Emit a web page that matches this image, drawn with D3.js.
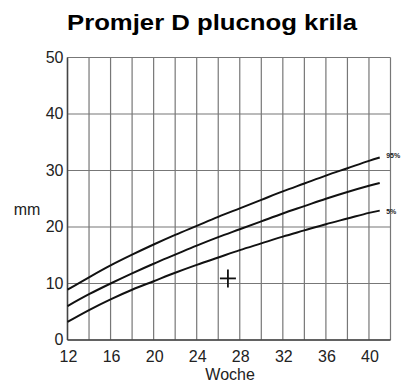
<!DOCTYPE html>
<html><head><meta charset="utf-8">
<script src="https://cdn.jsdelivr.net/npm/d3@7"></script>
<style>body{margin:0;background:#fff}svg{display:block}</style>
</head><body><svg id="c" width="407" height="387"></svg>
<script>
const weeks = [12,14,16,18,20,22,24,26,28,30,32,34,36,38,40,41];
const p95 = [8.9,11.1,13.2,15.1,16.9,18.6,20.2,21.8,23.3,24.8,26.3,27.7,29.1,30.4,31.7,32.3];
const p50 = [6.0,8.1,10.0,11.8,13.5,15.1,16.7,18.2,19.6,21.0,22.4,23.7,25.0,26.2,27.3,27.8];
const p5  = [3.2,5.3,7.2,8.9,10.4,11.9,13.3,14.6,15.9,17.1,18.3,19.4,20.5,21.5,22.5,22.9];
const xTicks = [12,16,20,24,28,32,36,40];
const yTicks = [0,10,20,30,40,50];
const xGrid = d3.range(12,43,2);
const crossWeek = [26.9], crossVal = [10.9];
const labels = [{t:"95%", v:32.8}, {t:"5%", v:22.8}];

const svg = d3.select("#c");
const x = d3.scaleLinear().domain([12,42]).range([67.5,390.5]);
const y = d3.scaleLinear().domain([0,50]).range([340,57.5]);
const font = "Liberation Sans, Arial, sans-serif";

svg.append("text").attr("x",212).attr("y",30).attr("text-anchor","middle")
  .attr("font-family",font).attr("font-weight","bold").attr("font-size",22)
  .attr("textLength",290).attr("lengthAdjust","spacingAndGlyphs").text("Promjer D plucnog krila");

const g = svg.append("g");
g.selectAll(".vg").data(xGrid).join("line")
  .attr("x1",d=>x(d)).attr("x2",d=>x(d)).attr("y1",y(0)).attr("y2",y(50))
  .attr("stroke","#777").attr("stroke-width",1.2);
g.selectAll(".hg").data(yTicks).join("line")
  .attr("x1",x(12)).attr("x2",x(42)).attr("y1",d=>y(d)).attr("y2",d=>y(d))
  .attr("stroke","#777").attr("stroke-width",1.2);
g.append("line").attr("x1",x(12)).attr("x2",x(42)).attr("y1",y(0)).attr("y2",y(0)).attr("stroke","#444").attr("stroke-width",1.5);
g.append("line").attr("x1",x(12)).attr("x2",x(12)).attr("y1",y(0)).attr("y2",y(50)).attr("stroke","#444").attr("stroke-width",1.5);

svg.selectAll(".yl").data(yTicks).join("text")
  .attr("x",x(12)-4).attr("y",d=>y(d)+5).attr("text-anchor","end")
  .attr("font-family",font).attr("font-size",16).attr("fill","#222").text(d=>d);
svg.selectAll(".xl").data(xTicks).join("text")
  .attr("x",d=>x(d)+1).attr("y",y(0)+22).attr("text-anchor","middle")
  .attr("font-family",font).attr("font-size",16).attr("fill","#222").text(d=>d);
svg.append("text").attr("x",x(27.1)).attr("y",380).attr("text-anchor","middle")
  .attr("font-family",font).attr("font-size",16).attr("fill","#222").text("Woche");
svg.append("text").attr("x",27).attr("y",215).attr("text-anchor","middle")
  .attr("font-family",font).attr("font-size",16).attr("fill","#222").text("mm");

const line = d3.line().x((d,i)=>x(weeks[i])).y(d=>y(d)).curve(d3.curveCatmullRom);
[p95,p50,p5].forEach(s=>{
  svg.append("path").attr("d",line(s)).attr("fill","none").attr("stroke","#111").attr("stroke-width",2);
});

svg.selectAll(".pl").data(labels).join("text")
  .attr("x",x(41.6)).attr("y",d=>y(d.v)+3)
  .attr("font-family",font).attr("font-size",7).attr("font-weight","bold").attr("fill","#222").text(d=>d.t);

crossWeek.forEach((w,i)=>{
  const cx = x(w), cy = y(crossVal[i]);
  svg.append("line").attr("x1",cx-8).attr("x2",cx+8).attr("y1",cy).attr("y2",cy).attr("stroke","#111").attr("stroke-width",1.8);
  svg.append("line").attr("x1",cx).attr("x2",cx).attr("y1",cy-9).attr("y2",cy+9).attr("stroke","#111").attr("stroke-width",1.8);
});
</script></body></html>
